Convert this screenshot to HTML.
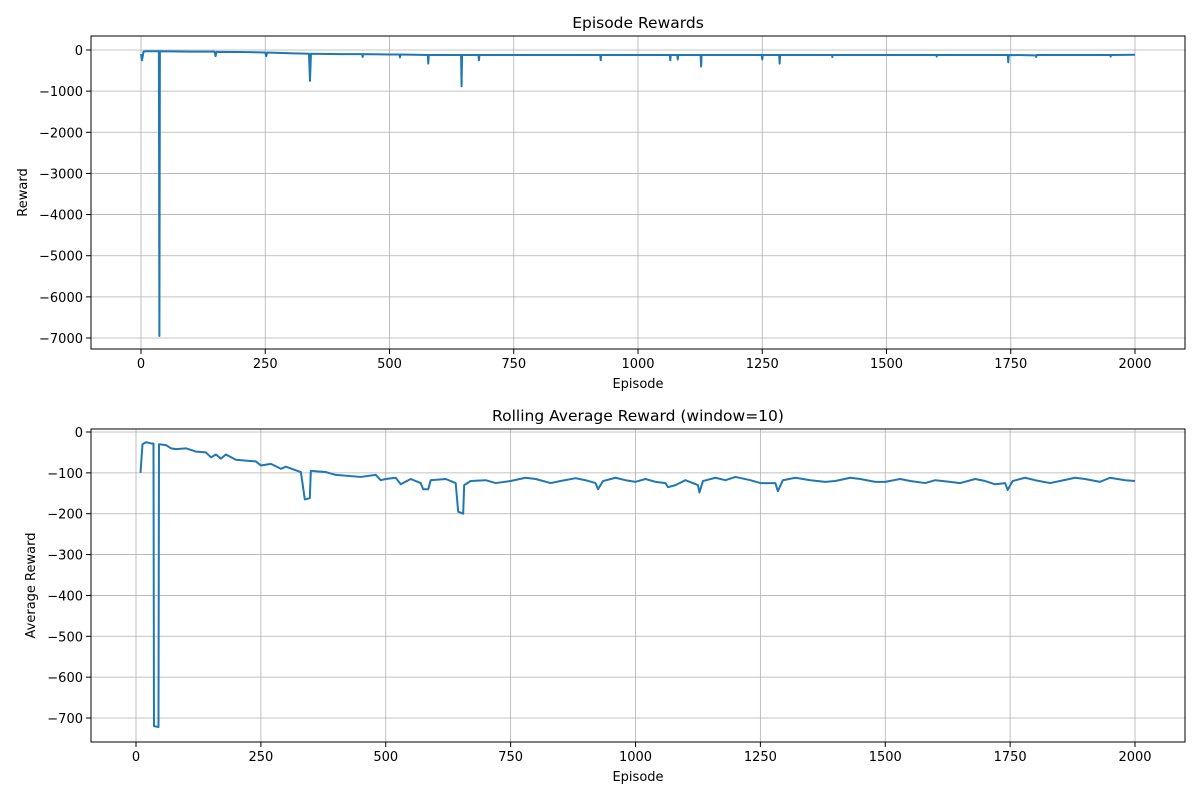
<!DOCTYPE html>
<html><head><meta charset="utf-8"><style>
body{margin:0;background:#fff;}
svg text{font-family:"DejaVu Sans","Liberation Sans",sans-serif;fill:#000;}
</style></head><body>
<svg id="chart" width="1200" height="800" xmlns="http://www.w3.org/2000/svg"></svg>
<script>
const xTicks=[0,250,500,750,1000,1250,1500,1750,2000];
const topYTicks=[0,-1000,-2000,-3000,-4000,-5000,-6000,-7000];
const botYTicks=[0,-100,-200,-300,-400,-500,-600,-700];
const topEpisodes=[0,2,5,10,36,37,38,100,148,150,152,200,250,252,254,300,338,340,342,400,445,446,447,500,520,521,522,577,578,579,644,645,646,679,680,681,924,925,926,1064,1065,1066,1079,1080,1081,1126,1127,1128,1249,1250,1251,1284,1285,1286,1390,1391,1392,1600,1601,1602,1744,1745,1746,1800,1801,1802,1950,1951,1952,2000];
const topRewards=[-100,-250,-40,-30,-30,-6950,-30,-40,-40,-150,-45,-50,-60,-150,-60,-80,-90,-750,-90,-100,-100,-170,-100,-110,-110,-180,-110,-120,-330,-120,-120,-880,-120,-120,-250,-120,-120,-250,-120,-120,-250,-120,-120,-230,-120,-120,-400,-120,-120,-230,-120,-120,-330,-120,-120,-170,-120,-120,-160,-120,-120,-300,-120,-130,-170,-120,-120,-160,-120,-115];
const avgEpisodes=[9,13,20,30,35,36,45,46,60,70,80,100,120,140,150,160,170,180,200,220,240,250,270,290,300,330,338,348,350,380,400,450,480,490,500,520,530,550,570,575,585,590,620,640,645,655,657,670,700,720,750,780,800,830,850,880,900,920,925,935,960,980,1000,1020,1040,1060,1065,1080,1100,1125,1128,1135,1160,1180,1200,1230,1250,1280,1285,1295,1320,1350,1380,1400,1430,1450,1480,1500,1530,1550,1580,1600,1630,1650,1680,1700,1720,1740,1745,1755,1780,1800,1830,1850,1880,1900,1930,1950,1980,2000];
const avgRewards=[-100,-30,-25,-28,-28,-720,-722,-30,-32,-40,-42,-40,-48,-50,-62,-55,-65,-55,-68,-70,-72,-82,-78,-90,-85,-98,-165,-162,-95,-98,-105,-110,-105,-118,-115,-112,-128,-115,-125,-140,-140,-118,-115,-125,-195,-200,-130,-120,-118,-125,-120,-112,-115,-125,-120,-113,-118,-125,-140,-120,-112,-118,-122,-115,-122,-125,-135,-130,-118,-130,-148,-120,-112,-118,-110,-118,-125,-125,-145,-118,-112,-118,-122,-120,-112,-115,-122,-122,-115,-120,-125,-118,-122,-125,-115,-120,-128,-125,-142,-120,-112,-118,-125,-120,-112,-115,-122,-112,-118,-120];

const svg=document.getElementById('chart');
const NS='http://www.w3.org/2000/svg';
function mk(tag,attrs,parent){const e=document.createElementNS(NS,tag);for(const k in attrs)e.setAttribute(k,attrs[k]);(parent||svg).appendChild(e);return e;}

function panel(cfg){
  const g=mk('g',{});
  
  
  const X=v=>cfg.x0+(v-0)*(cfg.x2000-cfg.x0)/2000;
  const Y=v=>cfg.y0+(v/cfg.yRef)*(cfg.yRefPx-cfg.y0);
  xTicks.forEach(t=>{const l=mk('line',{x1:X(t),x2:X(t),y1:cfg.top,y2:cfg.bottom,stroke:'#b0b0b0','stroke-width':0.8},g);
    });
  cfg.yTicks.forEach(t=>{const l=mk('line',{x1:cfg.left,x2:cfg.right,y1:Y(t),y2:Y(t),stroke:'#b0b0b0','stroke-width':0.8},g);
    });
  let d='';cfg.xs.forEach((e,i)=>{d+=(i?'L':'M')+X(e).toFixed(2)+','+Y(cfg.ys[i]).toFixed(2);});
  const p=mk('path',{d:d,fill:'none',stroke:'#1f77b4','stroke-width':2,'stroke-linejoin':'round'},g);
  
  const r=mk('rect',{x:cfg.left,y:cfg.top,width:cfg.right-cfg.left,height:cfg.bottom-cfg.top,fill:'none',stroke:'#000','stroke-width':1},g);
  
  xTicks.forEach(t=>{mk('line',{x1:X(t),x2:X(t),y1:cfg.bottom,y2:cfg.bottom+5,stroke:'#000'},g);
    const tx=mk('text',{x:X(t),y:cfg.bottom+19,'font-size':13,'text-anchor':'middle'},g);tx.textContent=t;
    });
  cfg.yTicks.forEach(t=>{mk('line',{x1:cfg.left-5,x2:cfg.left,y1:Y(t),y2:Y(t),stroke:'#000'},g);
    const tx=mk('text',{x:cfg.left-8,y:Y(t)+5,'font-size':13,'text-anchor':'end'},g);tx.textContent=t===0?'0':'\u2212'+Math.abs(t);
    });
  const ti=mk('text',{x:(cfg.left+cfg.right)/2,y:cfg.top-8,'font-size':15.5,'text-anchor':'middle'},g);ti.textContent=cfg.title;
  
  const xl=mk('text',{x:(cfg.left+cfg.right)/2,y:cfg.bottom+39,'font-size':13,'text-anchor':'middle'},g);xl.textContent='Episode';
  
  const cy=(cfg.top+cfg.bottom)/2;
  const yl=mk('text',{x:cfg.ylx,y:cy,'font-size':13,'text-anchor':'middle',transform:`rotate(-90 ${cfg.ylx} ${cy})`},g);yl.textContent=cfg.ylabel;
  
}
panel({name:'episode-rewards-panel',left:91,right:1185,top:36,bottom:349,x0:141,x2000:1135,y0:50,yRef:-7000,yRefPx:338,
  yTicks:topYTicks,xs:topEpisodes,ys:topRewards,title:'Episode Rewards',ylabel:'Reward',ylx:27});
panel({name:'rolling-average-panel',left:91,right:1185,top:429,bottom:742,x0:136,x2000:1135,y0:432,yRef:-700,yRefPx:718,
  yTicks:botYTicks,xs:avgEpisodes,ys:avgRewards,title:'Rolling Average Reward (window=10)',ylabel:'Average Reward',ylx:35});
</script>
</body></html>
